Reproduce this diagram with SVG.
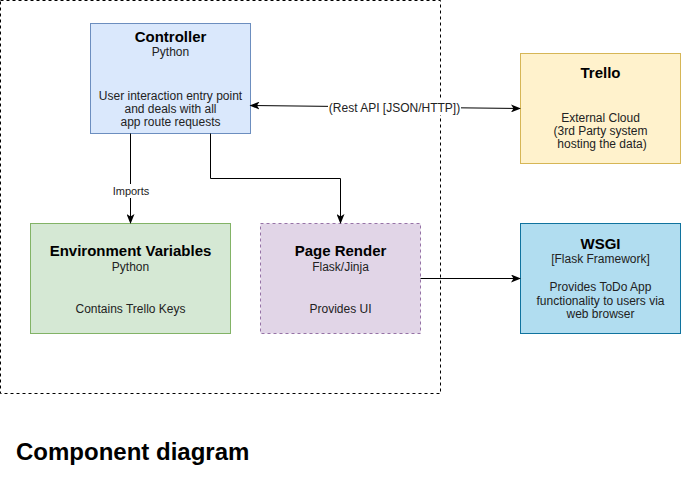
<svg xmlns="http://www.w3.org/2000/svg" width="681" height="484" viewBox="0 0 681 484">
<style>
text{font-family:"Liberation Sans",Arial,sans-serif;text-anchor:middle}
.t{font-size:15px;font-weight:bold;fill:#000}
.s{font-size:12px;fill:#222}
.l{font-size:12px;fill:#222}
.e{stroke:#000;stroke-width:1;fill:none}
</style>
<defs>
<marker id="arr" viewBox="0 0 10 8" refX="9" refY="4" markerWidth="10" markerHeight="8" markerUnits="userSpaceOnUse" orient="auto-start-reverse">
<path d="M0,0 L10,4 L0,8 L2.5,4 Z" fill="#000"/>
</marker>
</defs>
<rect x="0.5" y="0.5" width="440" height="393" fill="none" stroke="#000" stroke-dasharray="3 3"/>
<g id="controller">
<rect x="90.5" y="23.5" width="160" height="110" fill="#dae8fc" stroke="#6c8ebf"/>
<text class="t" x="170.5" y="42">Controller</text>
<text class="s" x="170.5" y="56">Python</text>
<text class="s" x="170.5" y="100">User interaction entry point</text>
<text class="s" x="170.5" y="113">and deals with all</text>
<text class="s" x="170.5" y="126">app route requests</text>
</g>
<g id="trello">
<rect x="520.5" y="53.5" width="160" height="110" fill="#fff2cc" stroke="#d6b656"/>
<text class="t" x="600.5" y="78">Trello</text>
<text class="s" x="600.5" y="122">External Cloud</text>
<text class="s" x="600.5" y="135">(3rd Party system</text>
<text class="s" x="602" y="148">hosting the data)</text>
</g>
<g id="env">
<rect x="30.5" y="223.5" width="200" height="110" fill="#d5e8d4" stroke="#82b366"/>
<text class="t" x="130.5" y="256">Environment Variables</text>
<text class="s" x="130.5" y="271">Python</text>
<text class="s" x="130.5" y="313">Contains Trello Keys</text>
</g>
<g id="pagerender">
<rect x="260.5" y="223.5" width="160" height="110" fill="#e1d5e7" stroke="#9673a6" stroke-dasharray="3 3"/>
<text class="t" x="340.5" y="256">Page Render</text>
<text class="s" x="340.5" y="271">Flask/Jinja</text>
<text class="s" x="340.5" y="313">Provides UI</text>
</g>
<g id="wsgi">
<rect x="520.5" y="223.5" width="160" height="110" fill="#b1ddf0" stroke="#10739e"/>
<text class="t" x="600.5" y="249">WSGI</text>
<text class="s" x="600.5" y="263">[Flask Framework]</text>
<text class="s" x="600.5" y="291">Provides ToDo App</text>
<text class="s" x="600.5" y="305">functionality to users via</text>
<text class="s" x="600.5" y="318">web browser</text>
</g>
<g id="connectors">
<path class="e" d="M250.5,105.5 L520,108.5" marker-start="url(#arr)" marker-end="url(#arr)"/>
<rect x="328" y="99" width="133" height="16" fill="#fff"/>
<text class="l" x="394.5" y="111.5">(Rest API [JSON/HTTP])</text>
<path class="e" d="M130.5,133.5 L130.5,223" marker-end="url(#arr)"/>
<rect x="112" y="184" width="37" height="14" fill="#fff"/>
<text x="131" y="195" style="font-size:11px;fill:#222">Imports</text>
<path class="e" d="M210.5,133.5 L210.5,178.5 L340.5,178.5 L340.5,223" marker-end="url(#arr)"/>
<path class="e" d="M420.5,278.5 L520,278.5" marker-end="url(#arr)"/>
</g>
<text x="16" y="460" style="font-size:24px;font-weight:bold;fill:#000;text-anchor:start">Component diagram</text>
</svg>
